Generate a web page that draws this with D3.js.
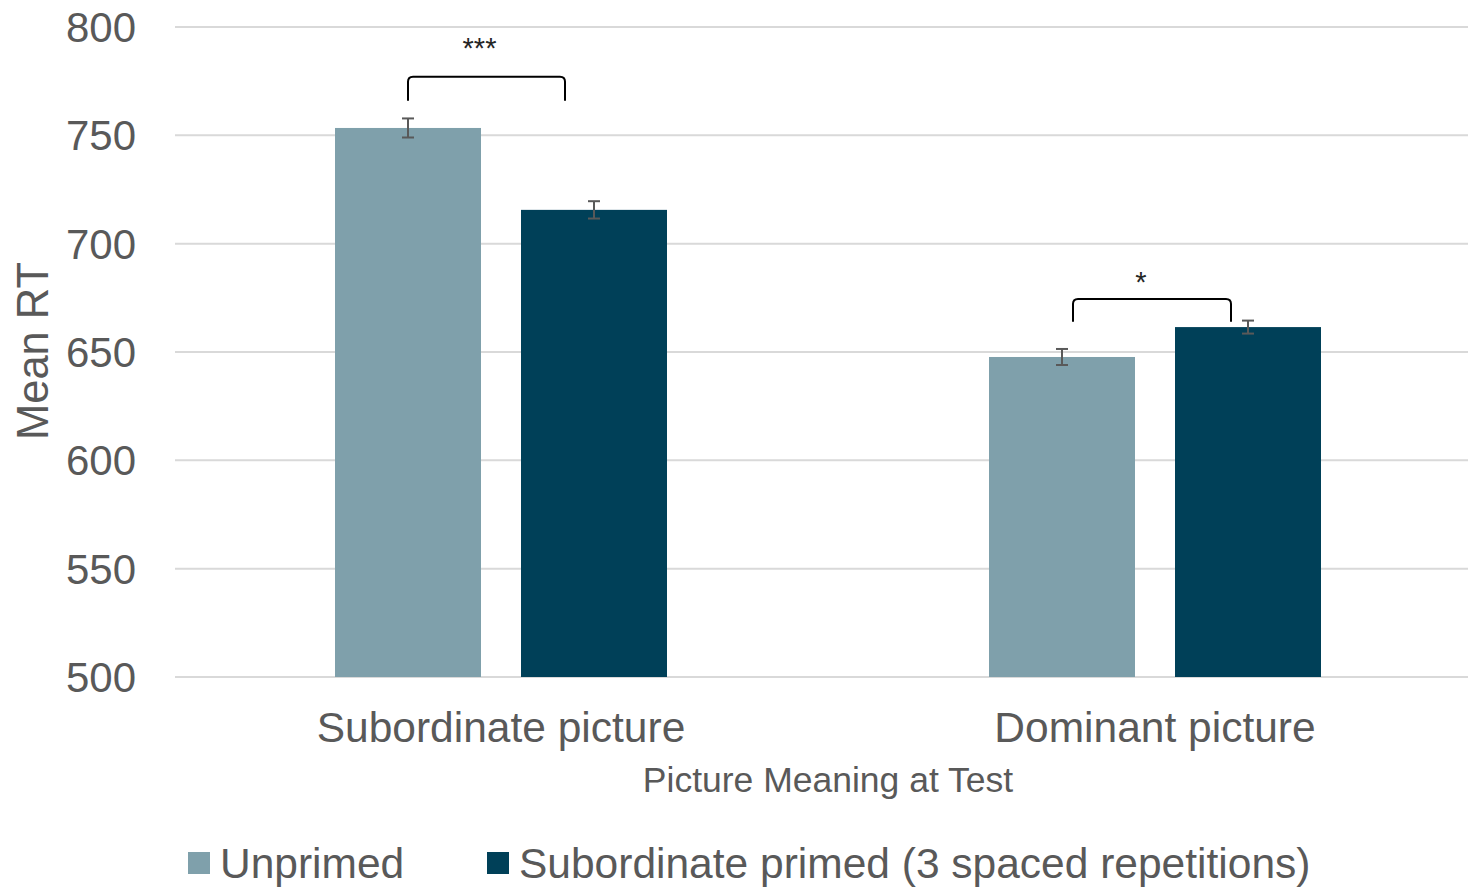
<!DOCTYPE html>
<html>
<head>
<meta charset="utf-8">
<script src="https://cdn.jsdelivr.net/npm/d3@7"></script>
<style>
  html, body { margin: 0; padding: 0; background: #fff; }
  svg { display: block; font-family: "Liberation Sans", Arial, sans-serif; }
</style>
</head>
<body>
<svg id="chart" width="1468" height="888"></svg>
<script>
// Mean reaction times by picture meaning and priming condition
const categories = ["Subordinate picture", "Dominant picture"];
const seriesNames = ["Unprimed", "Subordinate primed (3 spaced repetitions)"];
const unprimed = [753.4, 647.7];
const primed = [715.6, 661.5];
const unprimedErr = [4.4, 3.7];
const primedErr = [4.0, 3.0];
const yTicks = [500, 550, 600, 650, 700, 750, 800];
// significance markers: label, bracket top value, bracket foot value, label baseline value
const sigLabels = ["***", "*"];
const sigTop = [777, 674.5];
const sigFoot = [766, 664];
const sigText = [785.6, 677.6];
// bracket ends, shifted in px from the centres of the two bars they join
const sigLeftShift = [0, 11];
const sigRightShift = [-29, -17];
const sigTextShift = [-7, -11];

const colors = ["#7fa0ab", "#004058"];
const textColor = "#595959";

const svg = d3.select("#chart");
const W = 1468, H = 888;
const plotLeft = 174, plotRight = 1482, plotTop = 27, plotBottom = 677;

const x0 = d3.scaleBand().domain(categories)
  .range([plotLeft, plotRight]).paddingInner(0).paddingOuter(0);
const groupWidth = 332;
const x1 = d3.scaleBand().domain(seriesNames)
  .range([0, groupWidth]).paddingInner(40 / 186).paddingOuter(0);
const groupOffset = (x0.bandwidth() - groupWidth) / 2;
const y = d3.scaleLinear().domain([500, 800]).range([plotBottom, plotTop]);

// gridlines
svg.append("g")
  .selectAll("line").data(yTicks).join("line")
  .attr("x1", 175).attr("x2", W)
  .attr("y1", d => y(d)).attr("y2", d => y(d))
  .attr("stroke", "#d9d9d9").attr("stroke-width", 2);

// y tick labels
svg.append("g")
  .selectAll("text").data(yTicks).join("text")
  .attr("x", 136).attr("y", d => y(d) + 15)
  .attr("text-anchor", "end")
  .attr("fill", textColor)
  .attr("font-size", 42)
  .text(d => d);

// y axis title
svg.append("text")
  .attr("transform", "translate(48, 351) rotate(-90)")
  .attr("text-anchor", "middle")
  .attr("fill", textColor)
  .attr("font-size", 43.5)
  .text("Mean RT");

const rows = categories.map((c, i) => ({
  cat: c,
  vals: [
    { s: seriesNames[0], v: unprimed[i], e: unprimedErr[i], c: colors[0] },
    { s: seriesNames[1], v: primed[i], e: primedErr[i], c: colors[1] }
  ]
}));

const barX = (cat, s) => x0(cat) + groupOffset + x1(s);
const barMid = (cat, s) => barX(cat, s) + x1.bandwidth() / 2;

const groups = svg.append("g").selectAll("g").data(rows).join("g");

groups.selectAll("rect").data(d => d.vals.map(v => ({ ...v, cat: d.cat }))).join("rect")
  .attr("x", d => barX(d.cat, d.s))
  .attr("y", d => y(d.v))
  .attr("width", x1.bandwidth())
  .attr("height", d => y(500) - y(d.v))
  .attr("fill", d => d.c);

// error bars
const errG = groups.selectAll("g.err").data(d => d.vals.map(v => ({ ...v, cat: d.cat }))).join("g")
  .attr("class", "err")
  .attr("stroke", "#595959").attr("stroke-width", 2);
errG.append("line")
  .attr("x1", d => barMid(d.cat, d.s))
  .attr("x2", d => barMid(d.cat, d.s))
  .attr("y1", d => y(d.v + d.e)).attr("y2", d => y(d.v - d.e));
errG.selectAll("line.cap").data(d => [d.v + d.e, d.v - d.e].map(t => ({ ...d, t }))).join("line")
  .attr("class", "cap")
  .attr("x1", d => barMid(d.cat, d.s) - 6)
  .attr("x2", d => barMid(d.cat, d.s) + 6)
  .attr("y1", d => y(d.t)).attr("y2", d => y(d.t));

// significance brackets
categories.forEach((c, i) => {
  const xl = barMid(c, seriesNames[0]) + sigLeftShift[i];
  const xr = barMid(c, seriesNames[1]) + sigRightShift[i];
  const yt = y(sigTop[i]), yb = y(sigFoot[i]);
  const r = 5;
  const p = d3.path();
  p.moveTo(xl, yb);
  p.lineTo(xl, yt + r);
  p.quadraticCurveTo(xl, yt, xl + r, yt);
  p.lineTo(xr - r, yt);
  p.quadraticCurveTo(xr, yt, xr, yt + r);
  p.lineTo(xr, yb);
  svg.append("path").attr("d", p.toString())
    .attr("fill", "none").attr("stroke", "#000").attr("stroke-width", 2);
  svg.append("text")
    .attr("x", (xl + xr) / 2 + sigTextShift[i])
    .attr("y", y(sigText[i]))
    .attr("text-anchor", "middle")
    .attr("fill", "#262626")
    .attr("font-size", 29)
    .text(sigLabels[i]);
});

// category labels
svg.append("g").selectAll("text").data(categories).join("text")
  .attr("x", d => x0(d) + x0.bandwidth() / 2)
  .attr("y", 742)
  .attr("text-anchor", "middle")
  .attr("fill", textColor)
  .attr("font-size", 42.5)
  .text(d => d);

// x axis title
svg.append("text")
  .attr("x", 828).attr("y", 792)
  .attr("text-anchor", "middle")
  .attr("fill", textColor)
  .attr("font-size", 35.5)
  .text("Picture Meaning at Test");

// legend
const legendX = [188, 487];
const leg = svg.append("g").selectAll("g").data(seriesNames).join("g")
  .attr("transform", (d, i) => `translate(${legendX[i]}, 852)`);
leg.append("rect").attr("width", 22).attr("height", 22)
  .attr("fill", (d, i) => colors[i]);
leg.append("text").attr("x", 32).attr("y", 26)
  .attr("fill", textColor).attr("font-size", 42.5)
  .text(d => d);
</script>
</body>
</html>
